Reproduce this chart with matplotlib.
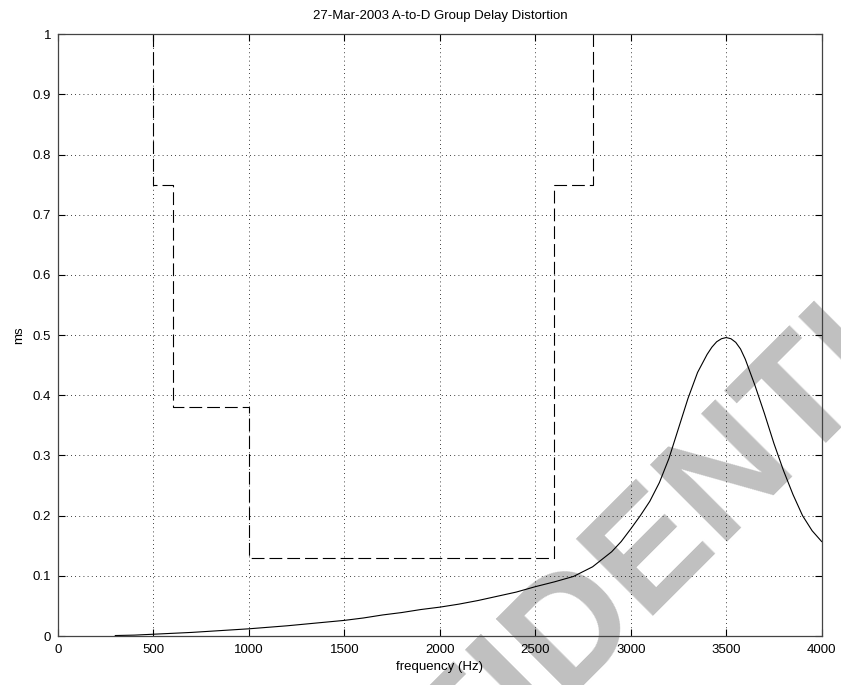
import matplotlib
matplotlib.use("Agg")
import matplotlib.pyplot as plt

plt.rcParams["font.family"] = ["Liberation Sans", "DejaVu Sans"]

# Group delay distortion limit mask (ms) vs frequency (Hz)
mask_freq = [500, 500, 600, 600, 1000, 1000, 2600, 2600, 2800, 2800]
mask_ms = [1.0, 0.75, 0.75, 0.38, 0.38, 0.13, 0.13, 0.75, 0.75, 1.0]

# Measured group delay distortion (ms)
meas_freq = [300, 400, 500, 600, 700, 800, 900, 1000, 1100, 1200, 1300, 1400,
             1500, 1600, 1700, 1800, 1900, 2000, 2100, 2200, 2300, 2400, 2500,
             2600, 2700, 2800, 2900, 2950, 3000, 3050, 3100, 3150, 3200, 3250,
             3300, 3350, 3400, 3425, 3450, 3475, 3500, 3525, 3550, 3575, 3600,
             3650, 3700, 3750, 3800, 3850, 3900, 3950, 4000]
meas_ms = [0.0008, 0.0015, 0.003, 0.0045, 0.006, 0.008, 0.010, 0.012, 0.0145,
           0.017, 0.020, 0.023, 0.026, 0.030, 0.035, 0.039, 0.044, 0.048,
           0.053, 0.059, 0.066, 0.073, 0.082, 0.090, 0.099, 0.115, 0.140,
           0.157, 0.178, 0.200, 0.224, 0.255, 0.295, 0.345, 0.395, 0.438,
           0.468, 0.480, 0.489, 0.494, 0.496, 0.494, 0.488, 0.477, 0.460,
           0.417, 0.370, 0.320, 0.275, 0.235, 0.200, 0.175, 0.157]

xticks = [0, 500, 1000, 1500, 2000, 2500, 3000, 3500, 4000]
yticks = [0, 0.1, 0.2, 0.3, 0.4, 0.5, 0.6, 0.7, 0.8, 0.9, 1]
ytick_labels = ["0", "0.1", "0.2", "0.3", "0.4", "0.5", "0.6", "0.7", "0.8", "0.9", "1"]

fig = plt.figure(figsize=(8.41, 6.85), dpi=100)
fig.patch.set_facecolor("white")

# Background stamp
fig.text(0.752, 0.080, "CONFIDENTIAL", fontsize=113, fontweight="bold",
         color="#c0c0c0", rotation=45, rotation_mode="anchor",
         ha="center", va="baseline", zorder=-5)

ax = fig.add_axes([0.069, 0.0715, 0.908, 0.8785])
ax.set_facecolor("none")

ax.plot(mask_freq, mask_ms, color="black", linewidth=0.8,
        linestyle=(0, (11.5, 4.5)))
ax.plot(meas_freq, meas_ms, color="black", linewidth=0.8)

ax.set_xlim(0, 4000)
ax.set_ylim(0, 1)
ax.set_xticks(xticks)
ax.set_xticklabels([str(v) for v in xticks])
ax.set_yticks(yticks)
ax.set_yticklabels(ytick_labels)

ax.grid(True, color="black", linewidth=0.6, linestyle=(0, (1, 4)))
ax.tick_params(direction="in", length=5, width=0.8, labelsize=9.5,
               top=True, right=True, colors="black")
ax.tick_params(axis="x", pad=6)
ax.tick_params(axis="y", pad=5)
for sp in ax.spines.values():
    sp.set_color("#444444")
    sp.set_linewidth(0.9)

ax.set_title("27-Mar-2003 A-to-D Group Delay Distortion", fontsize=9.5, pad=11)
ax.set_xlabel("frequency (Hz)", fontsize=9.5, labelpad=3)
ax.set_ylabel("ms", fontsize=9.5, labelpad=5)

fig.savefig("out.png", dpi=100, facecolor="white")
